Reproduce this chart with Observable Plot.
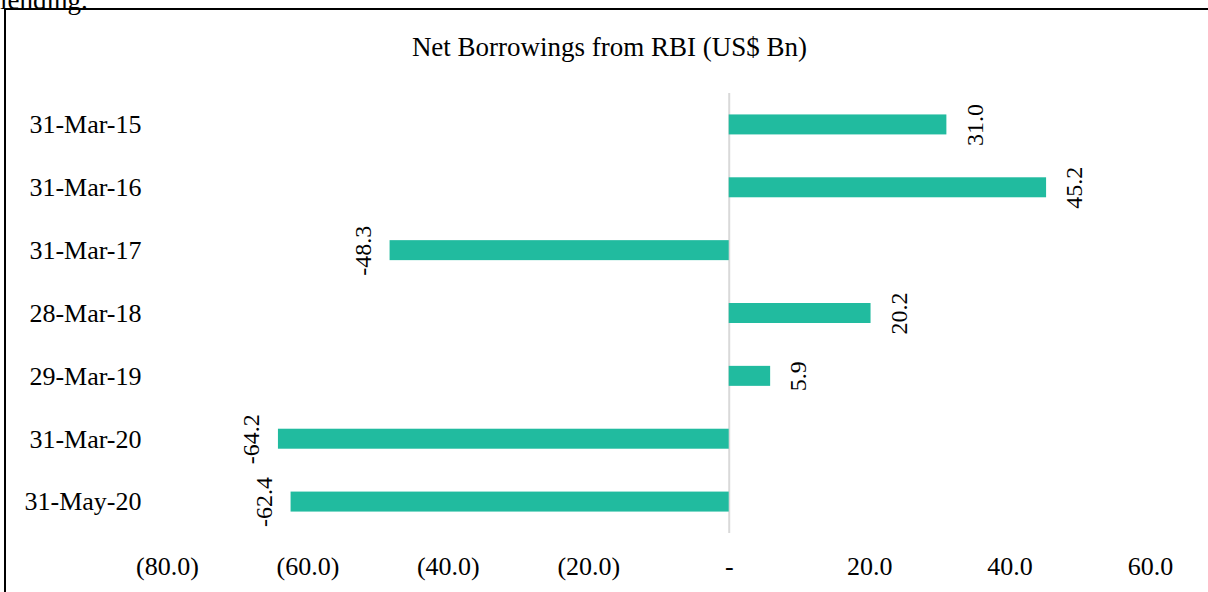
<!DOCTYPE html>
<html>
<head>
<meta charset="utf-8">
<script src="https://cdn.jsdelivr.net/npm/d3@7"></script>
<script src="https://cdn.jsdelivr.net/npm/@observablehq/plot@0.6"></script>
<style>
  html, body { margin: 0; padding: 0; background: #fff; overflow: hidden; }
  #wrap { position: relative; width: 1208px; height: 592px; overflow: hidden; font-family: "Liberation Serif", "Times New Roman", serif; color: #000; background: #fff; }
  .edge { position: absolute; background: #000; }
  #edgeTop { left: 4px; top: 8px; width: 1300px; height: 2px; }
  #edgeLeft { left: 4px; top: 8px; width: 2px; height: 700px; }
  #above { position: absolute; left: 0; top: -13px; font-size: 27px; line-height: 26px; white-space: nowrap; }
  #title { position: absolute; left: 0; top: 33px; width: 1208px; padding-left: 11px; box-sizing: border-box; text-align: center; font-size: 27px; line-height: 28px; white-space: nowrap; }
  #chart { position: absolute; left: 0; top: 62px; }
  #chart svg text { font-family: "Liberation Serif", "Times New Roman", serif; }
</style>
</head>
<body>
<div id="wrap">
  <div id="above">lending.</div>
  <div class="edge" id="edgeTop"></div>
  <div class="edge" id="edgeLeft"></div>
  <div id="title">Net Borrowings from RBI (US$ Bn)</div>
  <div id="chart"></div>
</div>
<script>
const dates = ["31-Mar-15", "31-Mar-16", "31-Mar-17", "28-Mar-18", "29-Mar-19", "31-Mar-20", "31-May-20"];
const values = [31.0, 45.2, -48.3, 20.2, 5.9, -64.2, -62.4];
const xTicks = [-80, -60, -40, -20, 0, 20, 40, 60];

const data = dates.map((d, i) => ({date: d, value: values[i]}));
const fmt = v => v === 0 ? "-" : v < 0 ? `(${Math.abs(v).toFixed(1)})` : v.toFixed(1);
const barColor = "#21bb9f";
const serif = "Liberation Serif";

const chart = Plot.plot({
  width: 1208,
  height: 530,
  marginTop: 31,
  marginBottom: 59,
  marginLeft: 167,
  marginRight: 58,
  style: {fontFamily: "'Liberation Serif', 'Times New Roman', serif", fontSize: "26px", color: "#000", background: "transparent", overflow: "visible"},
  x: {domain: [-80, 60], ticks: xTicks, tickFormat: fmt, tickSize: 0, tickPadding: 23, label: null},
  y: {domain: dates, paddingInner: 0.682, paddingOuter: 0.341, round: false, tickSize: 0, tickPadding: 26, label: null},
  marks: [
    Plot.ruleX([0], {stroke: "#d9d9d9", strokeWidth: 2}),
    Plot.barX(data, {x: "value", y: "date", fill: barColor}),
    Plot.text(data.filter(d => d.value >= 0), {x: "value", y: "date", text: d => d.value.toFixed(1), rotate: -90, dx: 28, fontSize: 24, fontFamily: serif, fill: "#000", textAnchor: "middle", lineAnchor: "middle"}),
    Plot.text(data.filter(d => d.value < 0), {x: "value", y: "date", text: d => d.value.toFixed(1), rotate: -90, dx: -27, fontSize: 24, fontFamily: serif, fill: "#000", textAnchor: "middle", lineAnchor: "middle"})
  ]
});
document.getElementById("chart").appendChild(chart);
</script>
</body>
</html>
